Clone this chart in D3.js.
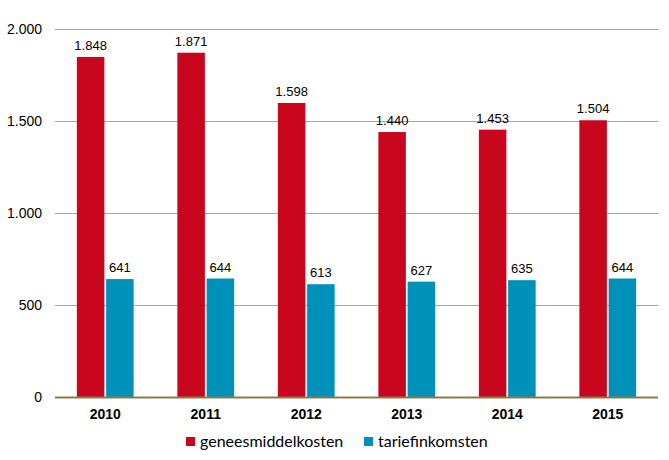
<!DOCTYPE html>
<html><head><meta charset="utf-8">
<script src="https://cdn.jsdelivr.net/npm/d3@7"></script>
<style>body{margin:0;background:#fff}svg{display:block}</style>
</head><body>
<svg id="c" width="669" height="460"></svg>
<script>
const categories = ["2010","2011","2012","2013","2014","2015"];
const seriesNames = ["geneesmiddelkosten","tariefinkomsten"];
const geneesmiddelkosten = [1848,1871,1598,1440,1453,1504];
const tariefinkomsten = [641,644,613,627,635,644];
const yTicks = [0,500,1000,1500,2000];
const colors = ["#C8071E","#0091BB"];

const fmt = v => d3.format(",")(v).replace(/,/g,".");
const svg = d3.select("#c");
const m = {l:55, r:11, t:29, b:63};
const W = 669, H = 460;
const x = d3.scaleBand().domain(categories).range([m.l, W-m.r]).paddingInner(0.435).paddingOuter(0.2175);
const x1 = d3.scaleBand().domain(seriesNames).range([0, x.bandwidth()]).paddingInner(0.06);
const y = d3.scaleLinear().domain([0,2000]).range([H-m.b, m.t]);

// gridlines
svg.append("g").selectAll("line").data(yTicks.filter(d=>d>0)).join("line")
  .attr("x1", m.l).attr("x2", W-m.r)
  .attr("y1", d=>y(d)+0.5).attr("y2", d=>y(d)+0.5)
  .attr("stroke","#A6A6A6").attr("stroke-width",1);

// y labels
svg.append("g").selectAll("text").data(yTicks).join("text")
  .attr("x", 42).attr("y", d=>y(d)+5)
  .attr("text-anchor","end")
  .attr("font-family","'Liberation Sans',Arial,sans-serif").attr("font-size",14).attr("fill","#000")
  .text(fmt);

const data = [geneesmiddelkosten, tariefinkomsten];
seriesNames.forEach((s,si)=>{
  const g = svg.append("g");
  g.selectAll("rect").data(categories).join("rect")
    .attr("x", (c)=>x(c)+x1(s))
    .attr("y", (c,i)=>y(data[si][i]))
    .attr("width", x1.bandwidth())
    .attr("height", (c,i)=>y(0)-y(data[si][i]))
    .attr("fill", colors[si]);
  g.selectAll("text").data(categories).join("text")
    .attr("x", (c)=>x(c)+x1(s)+x1.bandwidth()/2)
    .attr("y", (c,i)=>y(data[si][i])-7)
    .attr("text-anchor","middle")
    .attr("font-family","'Liberation Sans',Arial,sans-serif").attr("font-size",13).attr("fill","#000")
    .text((c,i)=>fmt(data[si][i]));
});

// baseline
svg.append("line").attr("x1",m.l).attr("x2",W-m.r).attr("y1",y(0)+0.5).attr("y2",y(0)+0.5)
  .attr("stroke","#8C7A4A").attr("stroke-width",2);

// x labels
svg.append("g").selectAll("text").data(categories).join("text")
  .attr("x", c=>x(c)+x.bandwidth()/2).attr("y", 419)
  .attr("text-anchor","middle")
  .attr("font-family","'Liberation Sans',Arial,sans-serif").attr("font-size",14).attr("font-weight","bold").attr("fill","#000")
  .text(c=>c);

// legend
const leg = [{x:186},{x:364}];
seriesNames.forEach((s,i)=>{
  svg.append("rect").attr("x",leg[i].x).attr("y",437).attr("width",9).attr("height",9).attr("fill",colors[i]);
  svg.append("text").attr("x",leg[i].x+14).attr("y",447)
    .attr("font-family","Lato,'Open Sans',sans-serif").attr("font-size",16).attr("fill","#000")
    .text(s);
});
</script>
</body></html>
